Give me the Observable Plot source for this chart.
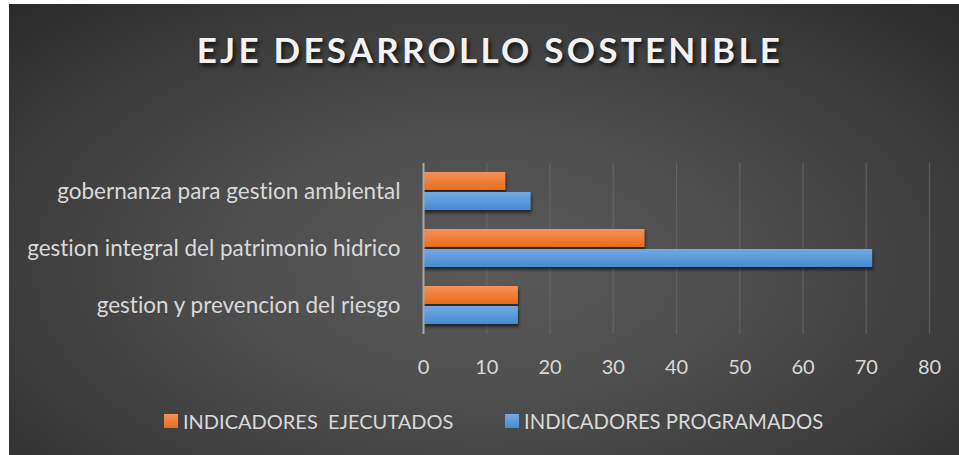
<!DOCTYPE html>
<html>
<head>
<meta charset="utf-8">
<script src="https://cdn.jsdelivr.net/npm/d3@7"></script>
<script src="https://cdn.jsdelivr.net/npm/@observablehq/plot@0.6"></script>
<style>
  html, body { margin: 0; padding: 0; background: #ffffff; }
  body { width: 959px; height: 455px; position: relative; overflow: hidden; }
  #chart {
    position: absolute; left: 9px; top: 4px; width: 950px; height: 451px;
    background: radial-gradient(ellipse 75% 85% at 50% 58%, #5a5a5a 0%, #4e4e4e 35%, #3b3b3b 70%, #272727 100%);
    font-family: Lato, "Open Sans", sans-serif;
    font-variant-ligatures: none;
    overflow: hidden;
  }
  #chart svg text { font-variant-ligatures: none; }
  #title {
    position: absolute; left: 6px; width: 950px; top: 28px;
    text-align: center; color: #f2f2f2;
    font-family: Lato, sans-serif; font-weight: bold; font-size: 35px; line-height: 35px;
    letter-spacing: 3.25px;
    text-shadow: 2px 3px 4px rgba(0,0,0,0.75);
  }
  #plot { position: absolute; left: 0; top: 140px; }
  .leg { position: absolute; top: 405px; display: flex; align-items: center; color: #d9d9d9;
         font-size: 20px; line-height: 24px; white-space: pre; }
  .sw { width: 14px; height: 14px; margin-right: 5px; }
</style>
</head>
<body>
<svg width="0" height="0" style="position:absolute">
  <defs>
    <linearGradient id="gradO" x1="0" y1="0" x2="0" y2="1">
      <stop offset="0" stop-color="#f4915a"/>
      <stop offset="1" stop-color="#ea6c18"/>
    </linearGradient>
    <linearGradient id="gradB" x1="0" y1="0" x2="0" y2="1">
      <stop offset="0" stop-color="#72aae3"/>
      <stop offset="1" stop-color="#468bd3"/>
    </linearGradient>
    <filter id="shadow" x="-5%" y="-30%" width="115%" height="190%">
      <feDropShadow dx="1" dy="3" stdDeviation="1.6" flood-color="#000" flood-opacity="0.55"/>
    </filter>
  </defs>
</svg>
<div id="chart">
  <div id="title">EJE DESARROLLO SOSTENIBLE</div>
  <div id="plot"></div>
  <div class="leg" style="left:155px"><div class="sw" style="background:linear-gradient(#f4915a,#ea6c18)"></div><span>INDICADORES  EJECUTADOS</span></div>
  <div class="leg" style="left:496px"><div class="sw" style="background:linear-gradient(#72aae3,#468bd3)"></div><span style="font-size:20.3px">INDICADORES PROGRAMADOS</span></div>
</div>
<script>
const categories = ["gobernanza para gestion ambiental", "gestion integral del patrimonio hidrico", "gestion y prevencion del riesgo"];
const series = ["INDICADORES  EJECUTADOS", "INDICADORES PROGRAMADOS"];
const ejecutados = [13, 35, 15];
const programados = [17, 71, 15];
const xTicks = [0, 10, 20, 30, 40, 50, 60, 70, 80];
const seriesFills = ["url(#gradO)", "url(#gradB)"];

const rows = [];
categories.forEach((c, i) => {
  rows.push({cat: c, series: series[0], value: ejecutados[i]});
  rows.push({cat: c, series: series[1], value: programados[i]});
});

const chart = Plot.plot({
  width: 950,
  height: 241,
  marginLeft: 414,
  marginRight: 30,
  marginTop: 18,
  marginBottom: 50,
  style: {background: "transparent", color: "#d9d9d9", fontFamily: "Lato, 'Open Sans', sans-serif", fontSize: "20px", overflow: "visible"},
  x: {domain: [0, 80], ticks: xTicks, tickSize: 0, tickPadding: 25, label: null, tickFormat: d => String(d)},
  y: {domain: series, axis: null, paddingInner: 0.095, paddingOuter: 0.42},
  fy: {domain: categories, padding: 0, label: null, tickSize: 0, tickPadding: 23},
  color: {domain: series, range: seriesFills},
  facet: {data: rows, y: "cat"},
  marks: [
    Plot.ruleX(xTicks.slice(1), {stroke: "#6e6e6e", strokeOpacity: 0.65, strokeWidth: 1.3}),
    Plot.barX(rows, {x: "value", y: "series", fill: "series"}),
    Plot.ruleX([0], {stroke: "#a8a8a8", strokeWidth: 2})
  ]
});
d3.select(chart).selectAll('g[aria-label="bar"]').attr("filter", "url(#shadow)");
d3.select(chart).selectAll("text")
  .filter(function() { return categories.includes(this.textContent); })
  .attr("font-size", "22.5px");
document.getElementById("plot").appendChild(chart);
</script>
</body>
</html>
